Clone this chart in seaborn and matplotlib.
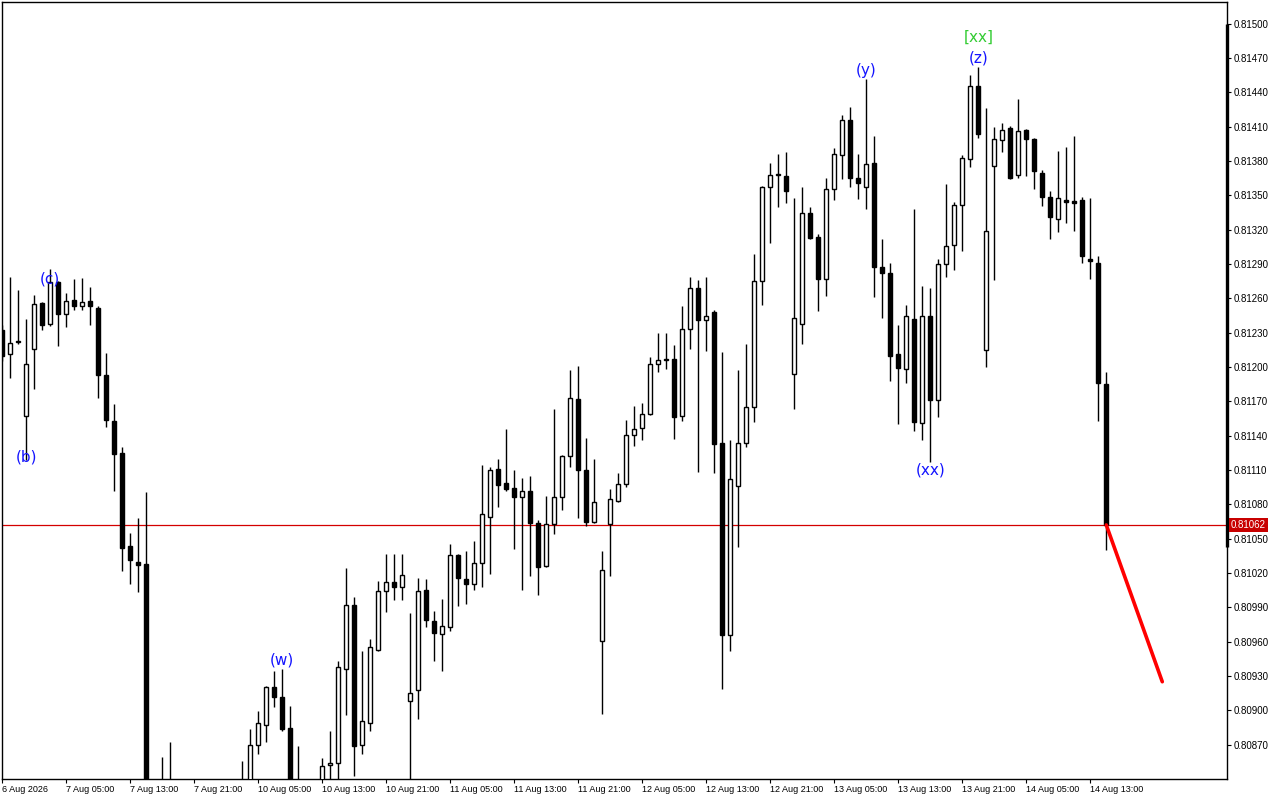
import numpy as np
import pandas as pd
import matplotlib
matplotlib.use("Agg")
import matplotlib.pyplot as plt
import matplotlib.transforms as mtransforms
import seaborn as sns

# ---------------- data (hourly bars) ----------------
time_labels = ["6 Aug 2026", "7 Aug 05:00", "7 Aug 13:00", "7 Aug 21:00",
               "10 Aug 05:00", "10 Aug 13:00", "10 Aug 21:00", "11 Aug 05:00",
               "11 Aug 13:00", "11 Aug 21:00", "12 Aug 05:00", "12 Aug 13:00",
               "12 Aug 21:00", "13 Aug 05:00", "13 Aug 13:00", "13 Aug 21:00",
               "14 Aug 05:00", "14 Aug 13:00"]

opens = [0.81232, 0.81211, 0.81222, 0.81157, 0.81216, 0.81256, 0.81238, 0.81274, 0.81246, 0.81259,
         0.81253, 0.81258, 0.81252, 0.81193, 0.81153, 0.81125, 0.81044, 0.81030, 0.81028, 0.80815,
         0.80800, 0.80820, 0.80830, 0.80810, 0.80790, 0.80805, 0.80795, 0.80780, 0.80790, 0.80805,
         0.80820, 0.80830, 0.80870, 0.80887, 0.80920, 0.80912, 0.80885, 0.80825, 0.80815, 0.80805,
         0.80825, 0.80852, 0.80854, 0.80936, 0.80992, 0.80870, 0.80889, 0.80953, 0.81004, 0.81012,
         0.81008, 0.80908, 0.80918, 0.81005, 0.80978, 0.80967, 0.80973, 0.81036, 0.81015, 0.81010,
         0.81029, 0.81069, 0.81111, 0.81099, 0.81094, 0.81086, 0.81092, 0.81064, 0.81026, 0.81063,
         0.81086, 0.81122, 0.81172, 0.81110, 0.81065, 0.80961, 0.81063, 0.81083, 0.81098, 0.81141,
         0.81147, 0.81159, 0.81203, 0.81206, 0.81207, 0.81157, 0.81233, 0.81269, 0.81241, 0.81248,
         0.81134, 0.80966, 0.81096, 0.81134, 0.81165, 0.81275, 0.81357, 0.81368, 0.81367, 0.81194,
         0.81238, 0.81335, 0.81314, 0.81277, 0.81356, 0.81385, 0.81416, 0.81365, 0.81357, 0.81378,
         0.81287, 0.81282, 0.81211, 0.81198, 0.81242, 0.81151, 0.81245, 0.81171, 0.81290, 0.81307,
         0.81342, 0.81382, 0.81446, 0.81215, 0.81376, 0.81398, 0.81409, 0.81368, 0.81407, 0.81399,
         0.81370, 0.81349, 0.81329, 0.81346, 0.81345, 0.81346, 0.81294, 0.81291, 0.81185]

highs = [0.81237, 0.81279, 0.81267, 0.81242, 0.81263, 0.81257, 0.81286, 0.81275, 0.81265, 0.81277,
         0.81278, 0.81270, 0.81253, 0.81212, 0.81168, 0.81130, 0.81055, 0.81068, 0.81091, 0.80834,
         0.80859, 0.80872, 0.80838, 0.80825, 0.80815, 0.80820, 0.80810, 0.80800, 0.80815, 0.80830,
         0.80856, 0.80884, 0.80899, 0.80921, 0.80934, 0.80936, 0.80904, 0.80869, 0.80835, 0.80830,
         0.80858, 0.80882, 0.80943, 0.81024, 0.80999, 0.80952, 0.80962, 0.81013, 0.81037, 0.81037,
         0.81037, 0.80985, 0.81016, 0.81015, 0.80987, 0.80997, 0.81045, 0.81037, 0.81039, 0.81048,
         0.81114, 0.81113, 0.81120, 0.81146, 0.81110, 0.81103, 0.81105, 0.81066, 0.81087, 0.81163,
         0.81123, 0.81197, 0.81201, 0.81138, 0.81120, 0.81039, 0.81093, 0.81107, 0.81154, 0.81166,
         0.81169, 0.81209, 0.81230, 0.81230, 0.81219, 0.81253, 0.81279, 0.81276, 0.81279, 0.81250,
         0.81213, 0.81136, 0.81197, 0.81220, 0.81299, 0.81358, 0.81378, 0.81386, 0.81388, 0.81348,
         0.81357, 0.81340, 0.81316, 0.81365, 0.81391, 0.81420, 0.81427, 0.81386, 0.81452, 0.81402,
         0.81312, 0.81291, 0.81237, 0.81254, 0.81338, 0.81271, 0.81269, 0.81294, 0.81360, 0.81344,
         0.81385, 0.81455, 0.81462, 0.81426, 0.81410, 0.81413, 0.81411, 0.81434, 0.81408, 0.81400,
         0.81372, 0.81354, 0.81389, 0.81392, 0.81402, 0.81349, 0.81348, 0.81297, 0.81196]

lows = [0.81205, 0.81190, 0.81220, 0.81119, 0.81181, 0.81232, 0.81236, 0.81218, 0.81235, 0.81250,
        0.81250, 0.81237, 0.81173, 0.81148, 0.81092, 0.81022, 0.81010, 0.81003, 0.80800, 0.80792,
        0.80785, 0.80805, 0.80800, 0.80780, 0.80775, 0.80785, 0.80770, 0.80765, 0.80780, 0.80795,
        0.80810, 0.80825, 0.80862, 0.80872, 0.80903, 0.80882, 0.80815, 0.80805, 0.80795, 0.80790,
        0.80815, 0.80830, 0.80838, 0.80896, 0.80843, 0.80862, 0.80882, 0.80952, 0.80986, 0.80996,
        0.80996, 0.80835, 0.80892, 0.80973, 0.80943, 0.80934, 0.80969, 0.80991, 0.80993, 0.81005,
        0.81008, 0.81019, 0.81078, 0.81092, 0.81041, 0.81005, 0.81017, 0.81001, 0.81025, 0.81054,
        0.81075, 0.81113, 0.81068, 0.81061, 0.81064, 0.80897, 0.81017, 0.81082, 0.81095, 0.81131,
        0.81136, 0.81158, 0.81196, 0.81198, 0.81137, 0.81153, 0.81216, 0.81108, 0.81214, 0.81107,
        0.80919, 0.80952, 0.81043, 0.81130, 0.81152, 0.81254, 0.81308, 0.81340, 0.81343, 0.81163,
        0.81220, 0.81312, 0.81249, 0.81262, 0.81346, 0.81364, 0.81357, 0.81347, 0.81338, 0.81261,
        0.81243, 0.81188, 0.81150, 0.81186, 0.81144, 0.81136, 0.81117, 0.81156, 0.81279, 0.81285,
        0.81301, 0.81375, 0.81400, 0.81200, 0.81276, 0.81388, 0.81364, 0.81365, 0.81367, 0.81356,
        0.81341, 0.81312, 0.81318, 0.81326, 0.81319, 0.81291, 0.81277, 0.81153, 0.81040]

closes = [0.81210, 0.81221, 0.81223, 0.81203, 0.81255, 0.81237, 0.81274, 0.81246, 0.81258, 0.81253,
          0.81257, 0.81253, 0.81193, 0.81154, 0.81124, 0.81042, 0.81031, 0.81027, 0.80815, 0.80800,
          0.80820, 0.80830, 0.80810, 0.80790, 0.80805, 0.80795, 0.80780, 0.80790, 0.80805, 0.80820,
          0.80830, 0.80870, 0.80889, 0.80920, 0.80912, 0.80884, 0.80825, 0.80815, 0.80805, 0.80820,
          0.80851, 0.80854, 0.80938, 0.80992, 0.80869, 0.80891, 0.80955, 0.81004, 0.81012, 0.81008,
          0.81018, 0.80915, 0.81004, 0.80979, 0.80968, 0.80974, 0.81036, 0.81016, 0.81010, 0.81029,
          0.81072, 0.81110, 0.81097, 0.81093, 0.81086, 0.81092, 0.81064, 0.81025, 0.81063, 0.81086,
          0.81122, 0.81173, 0.81110, 0.81065, 0.81082, 0.81023, 0.81085, 0.81098, 0.81141, 0.81146,
          0.81159, 0.81203, 0.81206, 0.81207, 0.81156, 0.81233, 0.81269, 0.81241, 0.81245, 0.81133,
          0.80966, 0.81102, 0.81134, 0.81165, 0.81275, 0.81357, 0.81368, 0.81369, 0.81354, 0.81243,
          0.81335, 0.81313, 0.81277, 0.81356, 0.81386, 0.81416, 0.81365, 0.81361, 0.81377, 0.81287,
          0.81282, 0.81210, 0.81199, 0.81245, 0.81152, 0.81245, 0.81171, 0.81290, 0.81306, 0.81342,
          0.81383, 0.81446, 0.81404, 0.81319, 0.81399, 0.81407, 0.81365, 0.81406, 0.81399, 0.81371,
          0.81349, 0.81331, 0.81348, 0.81344, 0.81343, 0.81297, 0.81293, 0.81186, 0.81062]

last_price = 0.81062
projection_bars = [138, 145]
projection_prices = [0.81062, 0.80925]

wave_labels = ["(b)", "(c)", "(w)", "(y)", "(xx)", "(z)", "[xx]"]
wave_bars = [3, 6, 35, 108, 116, 122, 122]
wave_prices = [0.81121, 0.81277, 0.80944, 0.81459, 0.81110, 0.81470, 0.81488]
wave_colors = ["#1414ff", "#1414ff", "#1414ff", "#1414ff", "#1414ff", "#1414ff", "#33cc33"]

# ---------------- figure ----------------
sns.set_theme(style="white")
plt.rcParams['font.family'] = ['Liberation Sans', 'DejaVu Sans']

W, H = 1280, 800
fig = plt.figure(figsize=(W / 100, H / 100), dpi=100)
fig.patch.set_facecolor("white")
ax = fig.add_axes([2 / W, 21 / H, 1225 / W, 777 / H])
ax.set_facecolor("white")

df = pd.DataFrame({"bar": np.arange(len(opens)), "open": opens, "high": highs,
                   "low": lows, "close": closes})
df["up"] = df["close"] >= df["open"]
df["bottom"] = df[["open", "close"]].min(axis=1)
df["height"] = (df["close"] - df["open"]).abs()

px = 0.72  # one pixel in points
ax.axhline(last_price, color="#d40000", lw=0.9, zorder=1)
ax.vlines(df["bar"], df["low"], df["high"], color="black", lw=1.0 * px * 1.4, zorder=2)
upd = df[df["up"]]
dnd = df[~df["up"]]
ax.bar(upd["bar"], upd["height"], bottom=upd["bottom"], width=0.52, color="white",
       edgecolor="black", linewidth=1.4 * px, zorder=3)
ax.bar(dnd["bar"], dnd["height"], bottom=dnd["bottom"], width=0.52, color="black",
       edgecolor="black", linewidth=1.4 * px, zorder=3)

sns.lineplot(x=projection_bars, y=projection_prices, color="#ff0000", lw=2.6, ax=ax,
             zorder=4, legend=False)

for lab, b, p, c in zip(wave_labels, wave_bars, wave_prices, wave_colors):
    ax.text(b, p, lab, ha="center", va="center", color=c, fontsize=11,
            family="DejaVu Sans", zorder=5)

ax.set_xlim(-0.04, 153.09)
ax.set_ylim(0.80840, 0.81519)

# axes styling
for s in ax.spines.values():
    s.set_color("black")
    s.set_linewidth(1.0)

yt = np.round(np.arange(0.80870, 0.815001, 0.0003), 5)
ax.yaxis.tick_right()
ax.set_yticks(yt)
ax.set_yticklabels([f"{v:.5f}" for v in yt])
ax.tick_params(axis="y", which="both", direction="out", length=3, width=0.8, pad=1.5,
               labelsize=7, colors="black", right=True, left=False)

xt = list(range(0, 8 * len(time_labels), 8))
ax.set_xticks(xt)
ax.set_xticklabels(time_labels, ha="left")
ax.tick_params(axis="x", which="both", direction="out", length=3, width=0.8, pad=1.5,
               labelsize=6.5, colors="black", bottom=True)
ax.set_xlabel("")
ax.set_ylabel("")
ax.grid(False)

blend = mtransforms.blended_transform_factory(ax.transAxes, ax.transData)
ax.plot([1.0, 1.0], [0.81043, 0.81500], transform=blend, color="black", lw=2.4,
        clip_on=False, solid_capstyle="butt", zorder=6)
ax.text(1.0033, last_price, f"{last_price:.5f}", transform=blend, ha="left", va="center",
        color="white", fontsize=7,
        bbox=dict(boxstyle="square,pad=0.18", fc="#c80000", ec="none"), zorder=7)

fig.savefig("out.png", dpi=100, facecolor="white")
